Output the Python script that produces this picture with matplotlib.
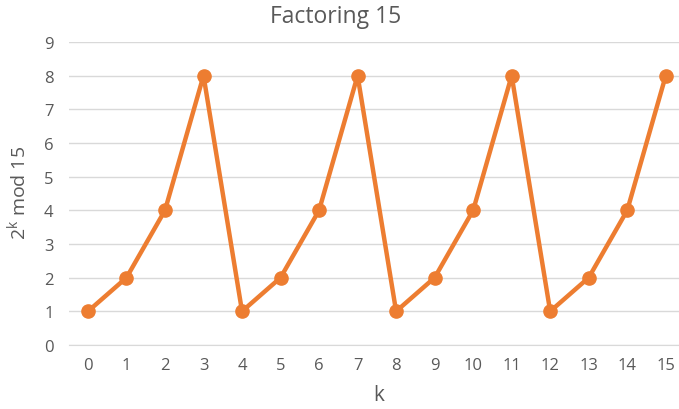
import matplotlib
matplotlib.use("Agg")
import matplotlib.pyplot as plt

plt.rcParams['font.family'] = ['Open Sans', 'DejaVu Sans']

k_values = list(range(16))
residues = [1, 2, 4, 8, 1, 2, 4, 8, 1, 2, 4, 8, 1, 2, 4, 8]
y_ticks = list(range(10))

line_color = '#ED7D31'
text_color = '#595959'
grid_color = '#D9D9D9'

fig = plt.figure(figsize=(6.79, 4.10), dpi=100)
ax = fig.add_axes([68.7 / 679, 64 / 410, (685 - 68.7) / 679, (367 - 64) / 410])

ax.plot(k_values, residues, color=line_color, linewidth=3.2, marker='o',
        markersize=9.5, solid_joinstyle='round', zorder=3)

ax.set_xlim(-0.5, 15.5)
ax.set_ylim(0, 9)
ax.set_yticks(y_ticks)
ax.set_xticks(k_values)
ax.grid(axis='y', color=grid_color, linewidth=1.0)
ax.set_axisbelow(True)
for side in ['top', 'right', 'left']:
    ax.spines[side].set_visible(False)
ax.spines['bottom'].set_color(grid_color)
ax.tick_params(axis='both', length=0, colors=text_color, labelsize=12)
ax.tick_params(axis='x', pad=9)
ax.tick_params(axis='y', pad=11)

fig.text(336 / 679, 1 - 17 / 410, 'Factoring 15', ha='center', va='center',
         fontsize=16.5, color=text_color)
fig.text(18 / 679, 1 - 193 / 410, r'2$^{\mathregular{k}}$ mod 15', ha='center',
         va='center', rotation=90, fontsize=14, color=text_color)
fig.text(379 / 679, 1 - 396 / 410, 'k', ha='center', va='center',
         fontsize=15, color=text_color)

fig.savefig('out.png', dpi=100)
